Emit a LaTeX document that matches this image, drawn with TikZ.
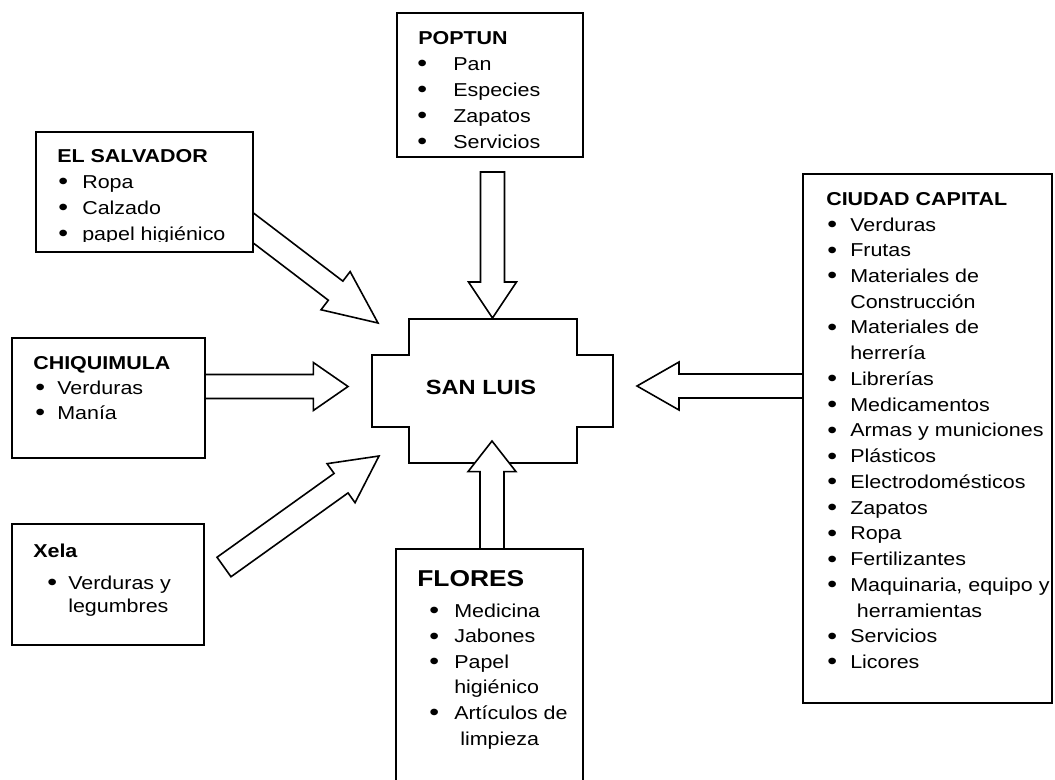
\documentclass[tikz,border=0pt]{standalone}
\usepackage{fontspec}
\usepackage{graphicx}
\setmainfont[FakeStretch=1.15]{Liberation Sans}
\usetikzlibrary{calc,fit}
\newcommand\bu{\raisebox{-0.08em}{\scalebox{1.3}{•}}}
\newlength\bw
\newcommand\bb{\makebox[\bw][l]{\bu}}
\newcommand\blockarrow[3]{%
  \coordinate (#1-b) at ($(#2)!#3!(#1)$);
  \draw[blk] ($(#1)!9pt!90:(#2)$) -- ($(#1-b)!9pt!90:(#2)$) -- ($(#1-b)!18pt!90:(#2)$) -- (#2)
    -- ($(#1-b)!18pt!-90:(#2)$) -- ($(#1-b)!9pt!-90:(#2)$) -- ($(#1)!9pt!-90:(#2)$) -- cycle;}
\begin{document}
\begin{tikzpicture}[x=0.75pt,y=-0.75pt,
  box/.style={draw,line width=1.4pt,fill=white,inner sep=0pt},
  blk/.style={draw,line width=1.2pt,fill=white,line join=miter},
  lbl/.style={anchor=base west,inner sep=0pt,align=left,font=\fontsize{14}{19.5}\selectfont},
  ttl/.style={lbl,font=\bfseries\fontsize{14}{19.5}\selectfont}]
\clip (0,0) rectangle (1055,779);
\fill[white] (0,0) rectangle (1055,779);

% central node
\draw[line width=1.4pt,fill=white] (409,319) -- (577,319) -- (577,355) -- (613,355) -- (613,427)
  -- (577,427) -- (577,463) -- (409,463) -- (409,427) -- (372,427) -- (372,355) -- (409,355) -- cycle;
\node[font=\bfseries\fontsize{15.4}{18}\selectfont] (sl) at (481,387) {SAN LUIS};

% arrow end points
\coordinate (salT) at (235,214);   \coordinate (salH) at (378,323);
\coordinate (popT) at (492.5,172); \coordinate (popH) at (492.5,318);
\coordinate (chqT) at (200,386.5); \coordinate (chqH) at (348,386.5);
\coordinate (ciuT) at (810,386);   \coordinate (ciuH) at (637,386);
\coordinate (xelT) at (224,567);   \coordinate (xelH) at (379,456);
\coordinate (floT) at (492,560);   \coordinate (floH) at (492,441);

\blockarrow{salT}{salH}{40pt}
\blockarrow{popT}{popH}{27pt}
\blockarrow{chqT}{chqH}{26pt}
\blockarrow{ciuT}{ciuH}{31.5pt}
\blockarrow{xelT}{xelH}{35pt}
\blockarrow{floT}{floH}{23pt}

% boxes
\node[box,fit={(397,13) (583,157)}] (pop) {};
\node[box,fit={(36,132) (253,252)}] (sal) {};
\node[box,fit={(12,338) (205,458)}] (chq) {};
\node[box,fit={(12,524) (204,645)}] (xel) {};
\node[box,fit={(803,174) (1052,703)}] (ciu) {};
\node[box,fit={(396,549) (583,800)}] (flo) {};

% POPTUN
\begin{scope}
\clip (397,13) rectangle (583,148);
\node[ttl] (poptit) at (418,44) {POPTUN};
\node[lbl] (poplst) at (417,70) {\setlength\bw{27pt}\begin{tabular}[t]{@{}l@{}l@{}}
\bb & Pan\\ \bb & Especies\\ \bb & Zapatos\\ \bb & Servicios\end{tabular}};
\end{scope}

% EL SALVADOR
\begin{scope}
\clip (36,132) rectangle (253,241);
\node[ttl] (saltit) at (57,162) {EL SALVADOR};
\node[lbl] (sallst) at (58,188) {\setlength\bw{18pt}\begin{tabular}[t]{@{}l@{}l@{}}
\bb & Ropa\\ \bb & Calzado\\ \bb & papel higiénico\end{tabular}};
\end{scope}

% CHIQUIMULA
\node[ttl] (chqtit) at (33,369) {CHIQUIMULA};
\node[lbl,font=\fontsize{14}{19}\selectfont] (chqlst) at (35,394) {\setlength\bw{16.5pt}\begin{tabular}[t]{@{}l@{}l@{}}
\bb & Verduras\\ \bb & Manía\end{tabular}};

% Xela
\node[ttl] (xeltit) at (33,557) {Xela};
\node[lbl,font=\fontsize{14}{17.25}\selectfont] (xellst) at (47,589) {\setlength\bw{15.75pt}\begin{tabular}[t]{@{}l@{}l@{}}
\bb & Verduras y\\ & legumbres\end{tabular}};

% CIUDAD CAPITAL
\node[ttl] (ciutit) at (826,205) {CIUDAD CAPITAL};
\node[lbl,font=\fontsize{14}{19.3}\selectfont] (ciulst) at (827,231) {\setlength\bw{17.25pt}\begin{tabular}[t]{@{}l@{}l@{}}
\bb & Verduras\\ \bb & Frutas\\ \bb & Materiales de\\ & Construcción\\ \bb & Materiales de\\ & herrería\\
\bb & Librerías\\ \bb & Medicamentos\\ \bb & Armas y municiones\\ \bb & Plásticos\\
\bb & Electrodomésticos\\ \bb & Zapatos\\ \bb & Ropa\\ \bb & Fertilizantes\\
\bb & Maquinaria, equipo y\\ & \hspace{5pt}herramientas\\ \bb & Servicios\\ \bb & Licores\end{tabular}};

% FLORES
\node[lbl,font=\bfseries\fontsize{17.2}{20}\selectfont] (flotit) at (417,586) {FLORES};
\node[lbl,font=\fontsize{14}{19.2}\selectfont] (flolst) at (429,617) {\setlength\bw{18.75pt}\begin{tabular}[t]{@{}l@{}l@{}}
\bb & Medicina\\ \bb & Jabones\\ \bb & Papel\\ & higiénico\\ \bb & Artículos de\\ & \hspace{4.5pt}limpieza\end{tabular}};
\end{tikzpicture}
\end{document}
